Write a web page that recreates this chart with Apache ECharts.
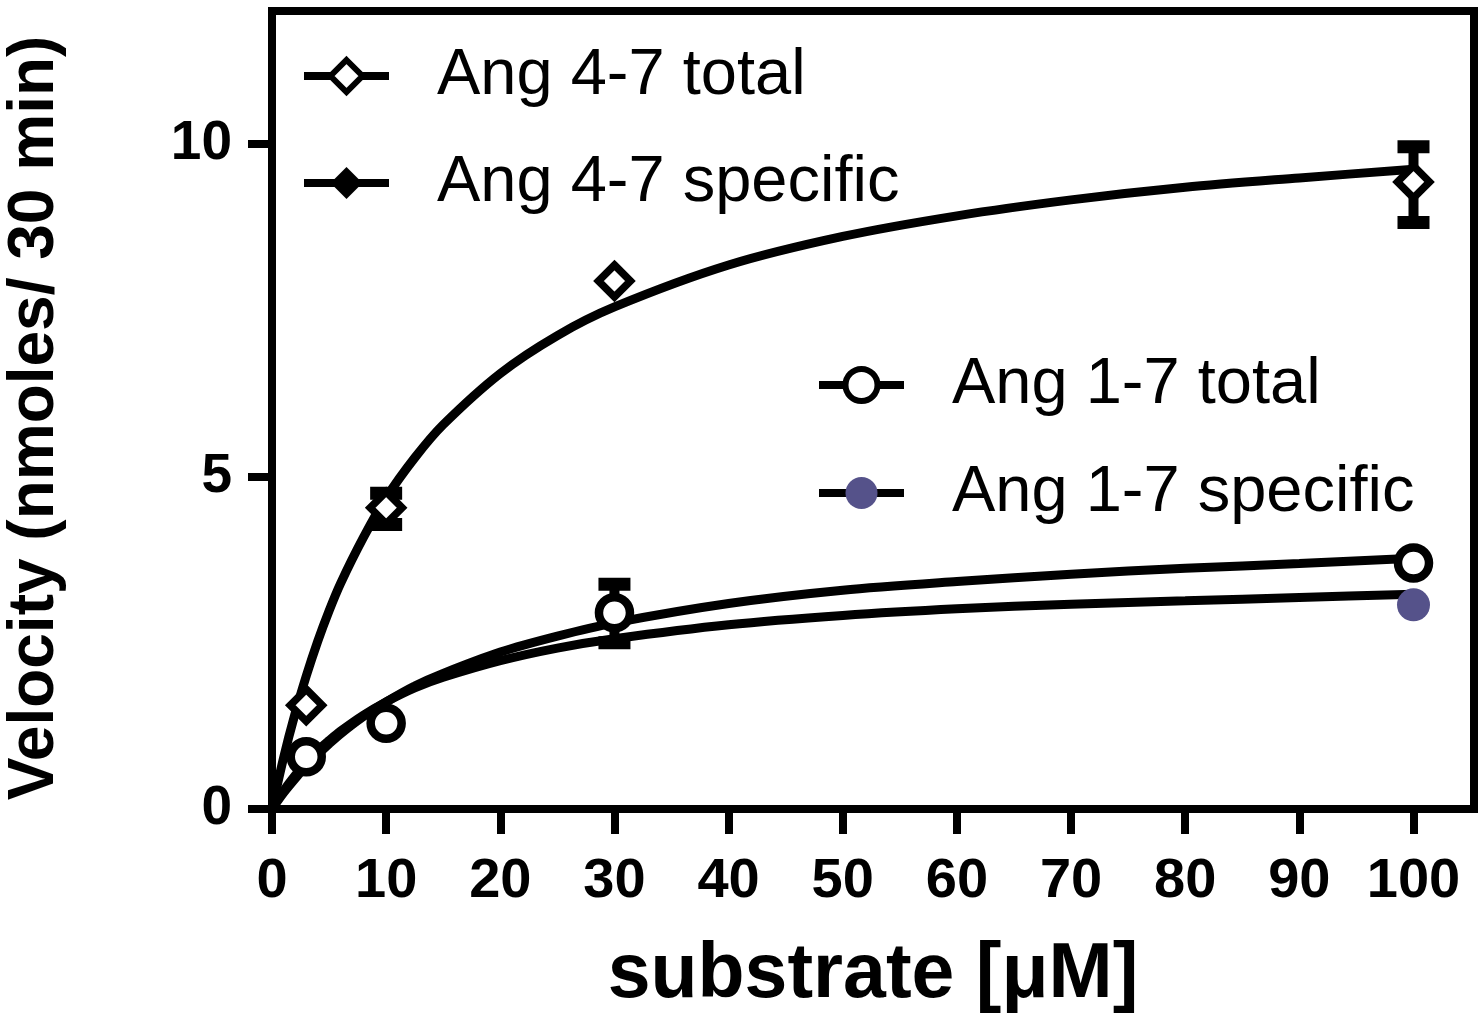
<!DOCTYPE html>
<html>
<head>
<meta charset="utf-8">
<script src="https://cdn.jsdelivr.net/npm/echarts@6/dist/echarts.min.js"></script>
<style>
html,body{margin:0;padding:0;background:#fff;}
#chart{width:1482px;height:1022px;}
</style>
</head>
<body>
<div id="chart"></div>
<script>
// ---- data ----
var xTicks = [0,10,20,30,40,50,60,70,80,90,100];
var yTicks = [0,5,10];

var substrate = [3,10,30,100];
var ang47Total = [1.56,4.53,7.94,9.43];
var ang17Total = [0.785,1.29,2.95,3.70];
var ang47SpecX = [];
var ang47Spec = [];
var ang17SpecX = [100];
var ang17Spec = [3.07];

// fitted curves
var curveX     = [0,1,2,3,4,5,6,8,10,12.5,15,20,25,30,40,50,60,70,80,90,100];
var fit47      = [0,0.76,1.42,2.0,2.52,2.98,3.39,4.08,4.68,5.28,5.78,6.55,7.12,7.55,8.18,8.61,8.92,9.16,9.35,9.49,9.62];
var fit17Total = [0,0.24,0.45,0.65,0.82,0.98,1.13,1.39,1.61,1.85,2.04,2.36,2.60,2.80,3.09,3.29,3.42,3.53,3.62,3.69,3.77];
var fit17Spec  = [0,0.27,0.50,0.70,0.88,1.03,1.17,1.41,1.61,1.82,1.98,2.23,2.42,2.56,2.77,2.91,3.01,3.08,3.13,3.18,3.23];

// error bars (SEM)
var err47X  = [10,100];
var err47Lo = [4.28,8.82];
var err47Hi = [4.75,9.96];
var err17X  = [30];
var err17Lo = [2.50];
var err17Hi = [3.38];

// ---- build ----
function pairs(xs, ys){ return xs.map(function(x,i){ return [x, ys[i]]; }); }
function triples(xs, lo, hi){ return xs.map(function(x,i){ return [x, lo[i], hi[i]]; }); }

var FONT = "'Liberation Sans', Arial, Helvetica, sans-serif";
var PURPLE = '#55528A';

function errRender(params, api){
  var x = api.value(0), lo = api.value(1), hi = api.value(2);
  var pLo = api.coord([x, lo]), pHi = api.coord([x, hi]);
  return {type:'group', children:[
    {type:'rect', shape:{x:pHi[0]-5, y:pHi[1], width:10, height:pLo[1]-pHi[1]}, style:{fill:'#000'}},
    {type:'rect', shape:{x:pHi[0]-16, y:pHi[1]-6.5, width:32, height:13}, style:{fill:'#000'}},
    {type:'rect', shape:{x:pLo[0]-16, y:pLo[1]-6.5, width:32, height:13}, style:{fill:'#000'}}
  ]};
}

var chart = echarts.init(document.getElementById('chart'), null, {renderer:'canvas'});
var legendText = {fontSize:65, lineHeight:66, color:'#000', fontFamily:FONT, padding:[0,0,0,43]};
var option = {
  animation:false,
  backgroundColor:'#fff',
  grid:{left:272, top:11, width:1202, height:798, show:true, borderWidth:8, borderColor:'#000',
        backgroundColor:'transparent', containLabel:false, outerBoundsMode:'none'},
  xAxis:{
    type:'value', min:0, max:105.3,
    name:'substrate [μM]', nameLocation:'middle', nameGap:128,
    nameTextStyle:{fontSize:77, fontWeight:'bold', color:'#000', fontFamily:FONT},
    axisLine:{show:true, onZero:false, lineStyle:{color:'#000', width:8}},
    axisTick:{show:true, length:25, lineStyle:{color:'#000', width:8}, customValues:xTicks},
    axisLabel:{fontSize:56, fontWeight:'bold', color:'#000', fontFamily:FONT, margin:45, customValues:xTicks},
    splitLine:{show:false}
  },
  yAxis:{
    type:'value', min:0, max:12,
    name:'Velocity (nmoles/ 30 min)', nameLocation:'middle', nameGap:205,
    nameTextStyle:{fontSize:64, fontWeight:'bold', color:'#000', fontFamily:FONT, padding:[0,16,0,0]},
    axisLine:{show:true, onZero:false, lineStyle:{color:'#000', width:8}},
    axisTick:{show:true, length:24, lineStyle:{color:'#000', width:8}, customValues:yTicks},
    axisLabel:{fontSize:55, fontWeight:'bold', color:'#000', fontFamily:FONT, margin:40, customValues:yTicks},
    splitLine:{show:false}
  },
  legend:[
    {orient:'vertical', left:300, top:43, padding:0, itemWidth:85, itemHeight:40, itemGap:41, selectedMode:false,
     textStyle:legendText, lineStyle:{color:'#000', width:8},
     data:[
       {name:'Ang 4-7 total', itemStyle:{color:'#fff', borderColor:'#000', borderWidth:6}},
       {name:'Ang 4-7 specific', itemStyle:{color:'#000', borderColor:'#000', borderWidth:0}}
     ]},
    {orient:'vertical', left:815, top:352, padding:0, itemWidth:85, itemHeight:40, itemGap:42, selectedMode:false,
     textStyle:legendText, lineStyle:{color:'#000', width:8},
     data:[
       {name:'Ang 1-7 total', itemStyle:{color:'#fff', borderColor:'#000', borderWidth:6}},
       {name:'Ang 1-7 specific', itemStyle:{color:PURPLE, borderColor:PURPLE, borderWidth:0}}
     ]}
  ],
  series:[
    {type:'line', name:'fit 4-7', data:pairs(curveX, fit47), smooth:0.3, symbol:'none', z:2,
     lineStyle:{color:'#000', width:9}},
    {type:'line', name:'fit 1-7 total', data:pairs(curveX, fit17Total), smooth:0.3, symbol:'none', z:2,
     lineStyle:{color:'#000', width:9}},
    {type:'line', name:'fit 1-7 specific', data:pairs(curveX, fit17Spec), smooth:0.3, symbol:'none', z:2,
     lineStyle:{color:'#000', width:9}},
    {type:'custom', name:'err 4-7', data:triples(err47X, err47Lo, err47Hi), renderItem:errRender, z:3},
    {type:'custom', name:'err 1-7', data:triples(err17X, err17Lo, err17Hi), renderItem:errRender, z:3},
    {type:'line', name:'Ang 4-7 specific', data:pairs(ang47SpecX, ang47Spec), symbol:'diamond', symbolSize:32, z:4,
     showSymbol:true, lineStyle:{width:0, color:'#000'}, itemStyle:{color:'#000', borderColor:'#000', borderWidth:0}},
    {type:'line', name:'Ang 4-7 total', data:pairs(substrate, ang47Total), symbol:'diamond', symbolSize:32, z:5,
     showSymbol:true, lineStyle:{width:0, color:'#000'}, itemStyle:{color:'#fff', borderColor:'#000', borderWidth:7.5}},
    {type:'line', name:'Ang 1-7 specific', data:pairs(ang17SpecX, ang17Spec), symbol:'circle', symbolSize:33, z:4,
     showSymbol:true, lineStyle:{width:0, color:'#000'}, itemStyle:{color:PURPLE, borderColor:PURPLE, borderWidth:0}},
    {type:'line', name:'Ang 1-7 total', data:pairs(substrate, ang17Total), symbol:'circle', symbolSize:31, z:5,
     showSymbol:true, lineStyle:{width:0, color:'#000'}, itemStyle:{color:'#fff', borderColor:'#000', borderWidth:8.5}}
  ]
};
chart.setOption(option);
</script>
</body>
</html>
